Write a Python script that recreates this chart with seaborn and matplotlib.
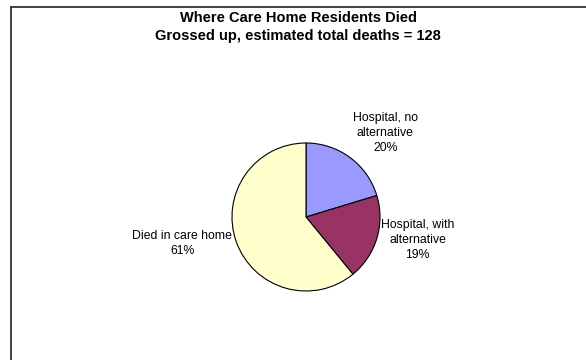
import numpy as np
import matplotlib
matplotlib.use("Agg")
import matplotlib.pyplot as plt
from matplotlib.lines import Line2D
import seaborn as sns

# Data
categories = ["Hospital, no\nalternative", "Hospital, with\nalternative", "Died in care home"]
deaths = [26, 24, 78]   # grossed-up total = 128
colors = ["#9999FF", "#993366", "#FFFFCC"]
title = "Where Care Home Residents Died\nGrossed up, estimated total deaths = 128"

sns.set_theme(style="white")
plt.rcParams['font.family'] = ['Liberation Sans', 'DejaVu Sans']

W, H = 586, 360
fig = plt.figure(figsize=(W / 100, H / 100), dpi=100)
fig.patch.set_facecolor("white")

# frame (only left and top edges visible; cropped on the right/bottom)
fx, fy = 10.5 / W, 1 - 6.5 / H
fig.add_artist(Line2D([fx, fx], [0, fy], transform=fig.transFigure,
                      color="#333333", linewidth=1.3, solid_capstyle="projecting"))
fig.add_artist(Line2D([fx, 1], [fy, fy], transform=fig.transFigure,
                      color="#333333", linewidth=1.3, solid_capstyle="projecting"))

fig.text(298 / W, 1 - 11 / H, title, ha="center", va="top", fontsize=10.5,
         fontweight="bold", linespacing=1.4, color="black")

cx, cy, r = 306, 217, 74
ax = fig.add_axes([(cx - r) / W, (H - cy - r) / H, 2 * r / W, 2 * r / H])
wedges, _ = ax.pie(deaths, colors=colors, startangle=90, counterclock=False,
                   radius=1, wedgeprops=dict(edgecolor="black", linewidth=0.8))
ax.set_xlim(-1, 1)
ax.set_ylim(-1, 1)
ax.set_aspect("equal")
ax.axis("off")

total = sum(deaths)
for w, lab, v in zip(wedges, categories, deaths):
    ang = np.deg2rad((w.theta1 + w.theta2) / 2)
    c, s = np.cos(ang), np.sin(ang)
    d = 1.06
    ha = "left" if c > 0 else "right"
    if s > 0.5:
        va = "bottom"
    elif s < -0.5:
        va = "top"
    else:
        va = "center"
    pct = round(100 * v / total)
    ax.text(d * c, d * s, f"{lab}\n{pct}%", ha=ha, va=va, multialignment="center",
            fontsize=8.8, linespacing=1.35, color="black", clip_on=False)

fig.savefig("out.png", dpi=100, facecolor="white")
